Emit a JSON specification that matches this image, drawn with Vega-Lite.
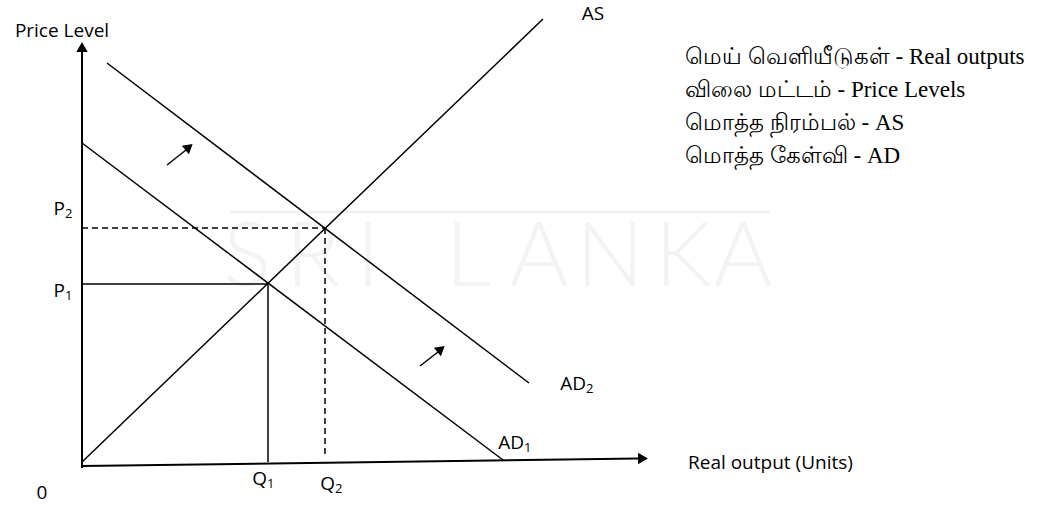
{
  "$schema": "https://vega.github.io/schema/vega-lite/v6.json",
  "width": 1053,
  "height": 505,
  "autosize": {"type": "fit", "contains": "padding"},
  "padding": 0,
  "background": "white",
  "config": {"view": {"stroke": null}},
  "datasets": {
    "wmLine": [{"x": 148, "y": 254, "x2": 688, "y2": 254}],
    "wmLetters": [
      {"ch": "S", "x": 165, "y": 207},
      {"ch": "R", "x": 231, "y": 207},
      {"ch": "I", "x": 286, "y": 207},
      {"ch": "L", "x": 386, "y": 207},
      {"ch": "A", "x": 457, "y": 207},
      {"ch": "N", "x": 528, "y": 207},
      {"ch": "K", "x": 601, "y": 207},
      {"ch": "A", "x": 661, "y": 207}
    ],
    "axes": [
      {"name": "Price Level", "x": 0, "y": -2, "x2": 0, "y2": 414},
      {"name": "Real output", "x": 0, "y": 0, "x2": 556, "y2": 7.5}
    ],
    "curves": [
      {"name": "AS", "x": 0, "y": 4, "x2": 461, "y2": 447},
      {"name": "AD1", "x": 0, "y": 323, "x2": 421, "y2": 6},
      {"name": "AD2", "x": 25, "y": 403, "x2": 447, "y2": 83},
      {"name": "P1", "x": 0, "y": 182, "x2": 186, "y2": 182},
      {"name": "Q1", "x": 186, "y": 182, "x2": 186, "y2": 4},
      {"name": "shift1", "x": 85, "y": 301, "x2": 104, "y2": 316},
      {"name": "shift2", "x": 338, "y": 100, "x2": 356, "y2": 114}
    ],
    "dashed": [
      {"name": "P2", "x": 0, "y": 238, "x2": 243, "y2": 238},
      {"name": "Q2", "x": 243, "y": 238, "x2": 243, "y2": 9}
    ],
    "axisHeads": [
      {"name": "Price Level", "x": 0, "y": 419, "heading": 0},
      {"name": "Real output", "x": 561, "y": 7.5, "heading": 90}
    ],
    "shiftHeads": [
      {"name": "shift1", "x": 107, "y": 319, "heading": 50},
      {"name": "shift2", "x": 359, "y": 117, "heading": 50}
    ],
    "subLabels": [
      {"main": "P", "sub": "2", "x": -17, "y": 251.5},
      {"main": "P", "sub": "1", "x": -17, "y": 169.5},
      {"main": "Q", "sub": "1", "x": 185, "y": -18.5},
      {"main": "Q", "sub": "2", "x": 253, "y": -23.5},
      {"main": "AD", "sub": "1", "x": 442, "y": 17.5},
      {"main": "AD", "sub": "2", "x": 504, "y": 76.5}
    ],
    "centerLabels": [
      {"text": "Price Level", "x": -20, "y": 429.5},
      {"text": "AS", "x": 511, "y": 446.5},
      {"text": "0", "x": -40, "y": -32.5}
    ],
    "leftLabels": [
      {"text": "Real output (Units)", "x": 606, "y": -2.5}
    ],
    "glossary": [
      {"text": "மெய்  வெளியீடுகள் - Real outputs", "x": 603, "y": 409},
      {"text": "விலை  மட்டம் - Price Levels", "x": 603, "y": 376},
      {"text": "மொத்த  நிரம்பல் - AS", "x": 603, "y": 343},
      {"text": "மொத்த  கேள்வி - AD", "x": 603, "y": 310}
    ]
  },
  "encoding": {
    "x": {"field": "x", "type": "quantitative", "scale": {"domain": [-82, 971], "nice": false, "zero": false}, "axis": null},
    "y": {"field": "y", "type": "quantitative", "scale": {"domain": [-39, 466], "nice": false, "zero": false}, "axis": null}
  },
  "layer": [
    {
      "data": {"name": "wmLine"},
      "mark": {"type": "rule", "color": "#f2f2f2", "strokeWidth": 3},
      "encoding": {"x2": {"field": "x2"}, "y2": {"field": "y2"}}
    },
    {
      "data": {"name": "wmLetters"},
      "mark": {"type": "text", "font": "Lato", "fontWeight": 300, "fontSize": 90, "color": "#f3f3f3", "align": "center", "baseline": "middle"},
      "encoding": {"text": {"field": "ch"}}
    },
    {
      "data": {"name": "axes"},
      "mark": {"type": "rule", "color": "#000000", "strokeWidth": 2},
      "encoding": {"x2": {"field": "x2"}, "y2": {"field": "y2"}}
    },
    {
      "data": {"name": "curves"},
      "mark": {"type": "rule", "color": "#000000", "strokeWidth": 1.5},
      "encoding": {"x2": {"field": "x2"}, "y2": {"field": "y2"}}
    },
    {
      "data": {"name": "dashed"},
      "mark": {"type": "rule", "color": "#000000", "strokeWidth": 1.5, "strokeDash": [6, 4]},
      "encoding": {"x2": {"field": "x2"}, "y2": {"field": "y2"}}
    },
    {
      "data": {"name": "axisHeads"},
      "mark": {"type": "point", "shape": "triangle-up", "filled": true, "color": "#000000", "opacity": 1, "size": 130},
      "encoding": {"angle": {"field": "heading", "type": "quantitative", "scale": null}}
    },
    {
      "data": {"name": "shiftHeads"},
      "mark": {"type": "point", "shape": "triangle-up", "filled": true, "color": "#000000", "opacity": 1, "size": 120},
      "encoding": {"angle": {"field": "heading", "type": "quantitative", "scale": null}}
    },
    {
      "data": {"name": "subLabels"},
      "mark": {"type": "text", "font": "Open Sans", "fontSize": 19, "color": "#000000", "align": "right", "baseline": "alphabetic"},
      "encoding": {"text": {"field": "main"}}
    },
    {
      "data": {"name": "subLabels"},
      "mark": {"type": "text", "font": "Open Sans", "fontSize": 13, "color": "#000000", "align": "left", "baseline": "alphabetic", "dy": 3},
      "encoding": {"text": {"field": "sub"}}
    },
    {
      "data": {"name": "centerLabels"},
      "mark": {"type": "text", "font": "Open Sans", "fontSize": 19, "color": "#000000", "align": "center", "baseline": "alphabetic"},
      "encoding": {"text": {"field": "text"}}
    },
    {
      "data": {"name": "leftLabels"},
      "mark": {"type": "text", "font": "Open Sans", "fontSize": 19, "color": "#000000", "align": "left", "baseline": "alphabetic"},
      "encoding": {"text": {"field": "text"}}
    },
    {
      "data": {"name": "glossary"},
      "mark": {"type": "text", "font": "Liberation Serif, Times New Roman, DejaVu Serif, serif", "fontSize": 23, "color": "#000000", "align": "left", "baseline": "middle"},
      "encoding": {"text": {"field": "text"}}
    }
  ]
}
